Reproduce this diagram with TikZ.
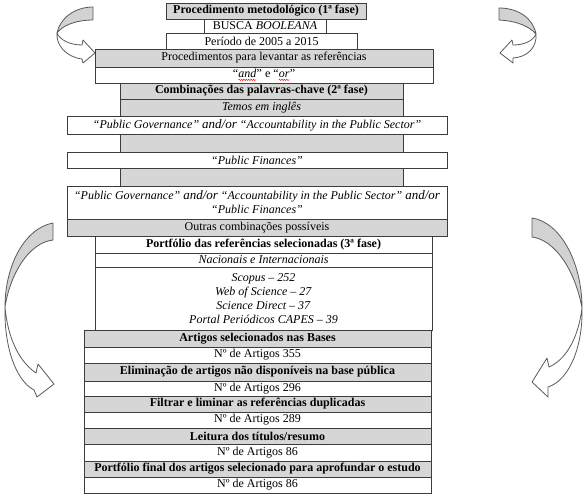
\documentclass[tikz,border=0pt]{standalone}
\usepackage{fontspec}
\setmainfont{Liberation Serif}
\usetikzlibrary{decorations.pathmorphing}
\definecolor{cellgray}{RGB}{214,214,214}
\definecolor{edgecol}{RGB}{60,60,60}
\definecolor{arrowgray}{RGB}{210,210,210}
\definecolor{arrowline}{RGB}{90,90,90}
\tikzset{
  cell/.style={draw=edgecol, line width=0.9pt, inner sep=0pt, outer sep=0pt,
    font=\fontsize{12}{14}\selectfont, align=center},
  shadedcell/.style={cell, fill=cellgray},
  plaincell/.style={cell, fill=white},
  arrowface/.style={draw=arrowline, line width=0.8pt, line join=round},
  spellwave/.style={draw=red, line width=0.45pt, decorate,
    decoration={snake, amplitude=0.7pt, segment length=2.4pt}},
  wordnode/.style={draw=none, fill=none, inner sep=0pt, outer sep=0pt,
    minimum width=0pt, minimum height=0pt, anchor=base,
    font=\fontsize{12}{14}\selectfont\itshape},
}
\newcommand\redwave[1]{\tikz[baseline=(w.base)]{\node[wordnode] (w) {#1}; \path[spellwave] ([yshift=-2.3pt]w.base west) -- ([yshift=-2.3pt]w.base east);}}
\newcommand\andor{{\fontsize{13}{14}\selectfont and/or}}
\newcommand\cellbox[7]{\node[#6, minimum width={(#4-#2)*1pt}, minimum height={(#5-#3)*1pt}] (#1) at ({(#2+#4)/2},{(#3+#5)/2}) {#7};}
\begin{document}
\begin{tikzpicture}[x=1pt, y=-1pt]
\useasboundingbox (0,0) rectangle (588,496);
% first phase
\cellbox{r1}{166}{3}{366}{19}{shadedcell}{\textbf{Procedimento metodológico (1ª fase)}}
\cellbox{r2}{204}{19}{326}{33}{plaincell}{BUSCA \textit{BOOLEANA}}
\cellbox{r3}{166}{33}{357}{49}{plaincell}{Período de 2005 a 2015}
\cellbox{r4}{95}{49}{433}{67}{shadedcell}{Procedimentos para levantar as referências}
\cellbox{r5}{95}{67}{433}{83}{plaincell}{“\redwave{and}” e “\redwave{or}”}
% second phase
\cellbox{r6}{120}{83}{403}{99}{shadedcell}{\textbf{Combinações das palavras-chave (2ª fase)}}
\cellbox{r7}{120}{99}{403}{116}{shadedcell}{\textit{Temos em inglês}}
\cellbox{r8}{67}{116}{447}{134}{plaincell}{\textit{“Public Governance” \andor{} “Accountability in the Public Sector”}}
\cellbox{f1}{120}{134}{403}{152}{shadedcell}{}
\cellbox{r9}{67}{152}{447}{168}{plaincell}{\textit{“Public Finances”}}
\cellbox{f2}{120}{168}{403}{186}{shadedcell}{}
\cellbox{r10}{67}{186}{447}{219}{plaincell}{\textit{“Public Governance” \andor{} “Accountability in the Public Sector” \andor}\\\textit{“Public Finances”}}
\cellbox{r11}{67}{219}{447}{236}{shadedcell}{Outras combinações possíveis}
% third phase
\cellbox{r12}{95}{236}{432}{253}{plaincell}{\textbf{Portfólio das referências selecionadas (3ª fase)}}
\cellbox{r13}{95}{253}{432}{267}{plaincell}{\textit{Nacionais e Internacionais}}
\cellbox{r14}{95}{267}{432}{330}{plaincell}{\fontsize{12}{15.3}\selectfont\textit{Scopus – 252}\\\textit{Web of Science – 27}\\\textit{Science Direct – 37}\\\textit{Portal Periódicos CAPES – 39}}
\cellbox{r15}{84}{330}{431}{347}{shadedcell}{\textbf{Artigos selecionados nas Bases}}
\cellbox{r16}{84}{347}{431}{363}{plaincell}{Nº de Artigos 355}
\cellbox{r17}{84}{363}{431}{381}{shadedcell}{\textbf{Eliminação de artigos não disponíveis na base pública}}
\cellbox{r18}{84}{381}{431}{396}{plaincell}{Nº de Artigos 296}
\cellbox{r19}{84}{396}{431}{412}{shadedcell}{\textbf{Filtrar e liminar as referências duplicadas}}
\cellbox{r20}{84}{412}{431}{428}{plaincell}{Nº de Artigos 289}
\cellbox{r21}{84}{428}{431}{444}{shadedcell}{\textbf{Leitura dos títulos/resumo}}
\cellbox{r22}{84}{444}{431}{461}{plaincell}{Nº de Artigos 86}
\cellbox{r23}{84}{461}{431}{477}{shadedcell}{\textbf{Portfólio final dos artigos selecionado para aprofundar o estudo}}
\cellbox{r24}{84}{477}{431}{493}{plaincell}{Nº de Artigos 86}
% curved arrows: top left
\draw[arrowface, fill=arrowgray] (93,7) .. controls (75,7) and (60,18) .. (57,33) .. controls (62,26) and (75,20) .. (93,20) -- cycle;
\draw[arrowface, fill=white] (57,33) .. controls (56,45) and (66,57) .. (82,59) -- (83,63) -- (95,53) -- (83,40) -- (82,45) .. controls (70,45) and (60,40) .. (57,33) -- cycle;
% top right
\draw[arrowface, fill=arrowgray] (499,8) .. controls (518,8) and (533,18) .. (536,34) .. controls (530,27) and (518,21) .. (499,20) -- cycle;
\draw[arrowface, fill=white] (536,34) .. controls (537,47) and (528,57) .. (513,58) -- (513,63) -- (500,53) -- (512,40) -- (513,45) .. controls (524,45) and (533,41) .. (536,34) -- cycle;
% bottom left
\draw[arrowface, fill=arrowgray] (53,223) .. controls (25,228) and (5,265) .. (5,307) .. controls (10,275) and (28,243) .. (53,240) -- cycle;
\draw[arrowface, fill=white] (5,307) .. controls (4,345) and (15,380) .. (34,390) -- (37,397) -- (54,384) -- (38,364) -- (36,373) .. controls (20,362) and (8,340) .. (5,307) -- cycle;
% bottom right
\draw[arrowface, fill=arrowgray] (532,218) .. controls (560,222) and (582,262) .. (582,308) .. controls (575,270) and (555,240) .. (532,237) -- cycle;
\draw[arrowface, fill=white] (582,308) .. controls (583,345) and (570,380) .. (548,387) -- (548,397) -- (532,382) -- (547,358) -- (549,367) .. controls (565,360) and (578,340) .. (582,308) -- cycle;
\end{tikzpicture}
\end{document}
